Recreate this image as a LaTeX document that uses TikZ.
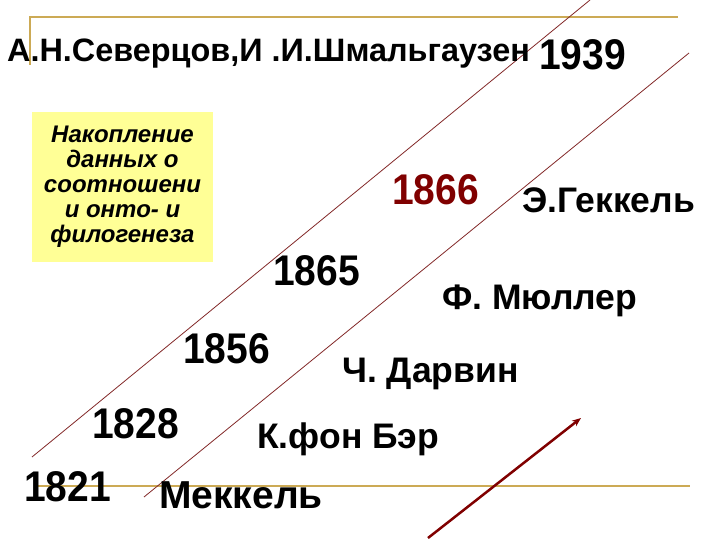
\documentclass[tikz,border=0pt]{standalone}
\usepackage{fontspec}
\setmainfont{Liberation Sans}
\usetikzlibrary{arrows.meta}
\definecolor{gold}{RGB}{204,170,85}
\definecolor{boxyellow}{RGB}{255,255,150}
\definecolor{darkred}{RGB}{128,0,0}
\definecolor{thinred}{RGB}{130,40,40}
\newcommand{\tallyear}[1]{\scalebox{1}[1.1]{#1}}
\begin{document}
\begin{tikzpicture}[x=1pt, y=-1pt,
    yr/.style = {anchor=base west, inner sep=0pt, font=\fontsize{39}{39}\selectfont\bfseries},
    person/.style = {anchor=base west, inner sep=0pt, font=\fontsize{35.5}{36}\selectfont\bfseries},
    era/.style = {thinred, line width=0.8pt},
    rule/.style = {gold, line width=2.5pt}]
    \useasboundingbox (0,0) rectangle (720,540);
    % frame rules
    \draw[rule] (30,65) -- (30,17) -- (678,17);
    \draw[rule] (35,486) -- (690,486);
    % era lines
    \coordinate (a1) at (32,457);
    \coordinate (a2) at (590,0);
    \coordinate (b1) at (144,497);
    \coordinate (b2) at (689,53);
    \draw[era] (a1) -- (a2);
    \draw[era] (b1) -- (b2);
    \node[anchor=base west, inner sep=0pt, font=\fontsize{32.4}{33}\selectfont\bfseries] (title) at (7,62) {А.Н.Северцов,И .И.Шмальгаузен};
    \node[yr] (y1939) at (539,70) {\tallyear{1939}};
    \node[fill=boxyellow, minimum width=181pt, minimum height=150pt, inner sep=0pt, align=center,
          font=\fontsize{24}{25}\selectfont\bfseries\itshape] (box) at (122.5,187)
          {Накопление\\данных о\\соотношени\\и онто- и\\филогенеза};
    \node[yr, darkred] (y1866) at (392,205) {\tallyear{1866}};
    \node[person] (haeckel) at (522,213) {Э.Геккель};
    \node[yr] (y1865) at (273,285) {\tallyear{1865}};
    \node[person] (mueller) at (442,309) {Ф. Мюллер};
    \node[yr] (y1856) at (183,363) {\tallyear{1856}};
    \node[person] (darwin) at (342,382) {Ч. Дарвин};
    \node[yr] (y1828) at (92,438) {\tallyear{1828}};
    \node[person] (baer) at (257,448) {К.фон Бэр};
    \node[yr] (y1821) at (24,501) {\tallyear{1821}};
    \node[person, font=\fontsize{39}{39}\selectfont\bfseries] (meckel) at (159,508) {Меккель};
    % arrow
    \coordinate (s) at (428,538);
    \coordinate (e) at (581,418);
    \draw[darkred, line width=2.5pt, -{Stealth[length=9pt, width=7pt]}] (s) -- (e);
\end{tikzpicture}
\end{document}
